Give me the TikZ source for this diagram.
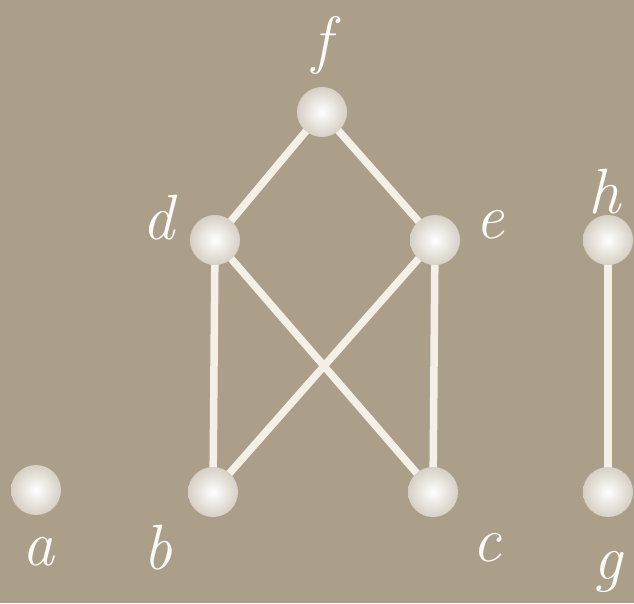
\documentclass[tikz,border=0pt]{standalone}
\definecolor{bg}{RGB}{171,159,137}
\definecolor{edgecol}{RGB}{244,240,232}
\definecolor{ballout}{RGB}{214,208,197}
\begin{document}
\begin{tikzpicture}[x=1pt,y=-1pt,
  vert/.style={circle,minimum size=50pt,inner sep=0pt,shade,inner color=white,outer color=ballout},
  conn/.style={draw=edgecol,line width=7.5pt},
  lab/.style={text=white!95!bg,font=\fontsize{64}{64}\selectfont\itshape,inner sep=0pt}]
\fill[bg] (0,0) rectangle (634,603);
\useasboundingbox (0,0) rectangle (634,603);
\coordinate (pf) at (322,112);
\coordinate (pd) at (215,240);
\coordinate (pe) at (435,240);
\coordinate (ph) at (608,240);
\coordinate (pa) at (36,490);
\coordinate (pb) at (213,492);
\coordinate (pc) at (433,492);
\coordinate (pg) at (608,492);
\draw[conn] (pf) -- (pd);
\draw[conn] (pf) -- (pe);
\draw[conn] (pd) -- (pb);
\draw[conn] (pd) -- (pc);
\draw[conn] (pe) -- (pb);
\draw[conn] (pe) -- (pc);
\draw[conn] (ph) -- (pg);
\node[vert] (f) at (pf) {};
\node[vert] (d) at (pd) {};
\node[vert] (e) at (pe) {};
\node[vert] (h) at (ph) {};
\node[vert] (a) at (pa) {};
\node[vert] (b) at (pb) {};
\node[vert] (c) at (pc) {};
\node[vert] (g) at (pg) {};
\node[lab] (lf) at (322,45) {f};
\node[lab] (ld) at (158,218) {d};
\node[lab] (le) at (490,225) {e};
\node[lab] (lh) at (604,192) {h};
\node[lab] (la) at (38,552) {a};
\node[lab] (lb) at (158,548) {b};
\node[lab] (lc) at (487,548) {c};
\node[lab] (lg) at (608,572) {g};
\end{tikzpicture}
\end{document}
